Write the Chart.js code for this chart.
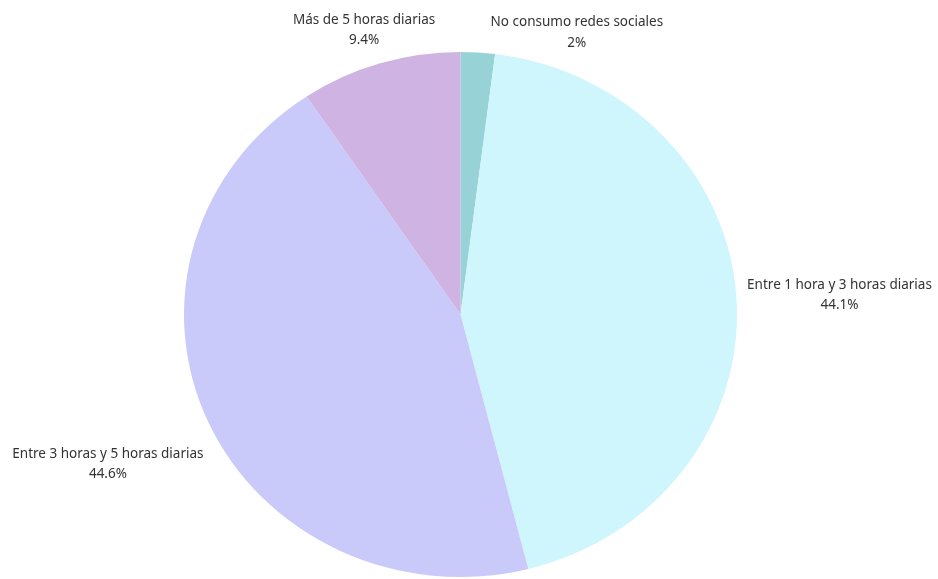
<!DOCTYPE html>
<html>
<head>
<meta charset="utf-8">
<script src="https://cdn.jsdelivr.net/npm/chart.js@4"></script>
<style>
html,body{margin:0;padding:0;background:#fff;}
#wrap{width:938px;height:579px;position:relative;}
</style>
</head>
<body>
<div id="wrap"><canvas id="c" width="938" height="579"></canvas></div>
<script>
const categories = ["No consumo redes sociales", "Entre 1 hora y 3 horas diarias", "Entre 3 horas y 5 horas diarias", "Más de 5 horas diarias"];
const values = [2, 44.1, 44.6, 9.4];
const valueLabels = ["2%", "44.1%", "44.6%", "9.4%"];
const colors = ["#97d3d6", "#cff6fc", "#cacafa", "#cfb3e2"];
// label offsets from the slice's outer mid-point (dx, dy) in px
const labelOffsets = [[99, -30], [103, -13], [-100, 33], [-16, -43]];

const X_STRETCH = 276.5 / 262.5;

const ellipsePlugin = {
  id: 'ellipse',
  beforeDatasetsDraw(chart) {
    const meta = chart.getDatasetMeta(0);
    const a = meta.data[0];
    const ctx = chart.ctx;
    ctx.save();
    ctx.translate(a.x, a.y);
    ctx.scale(X_STRETCH, 1);
    ctx.translate(-a.x, -a.y);
  },
  afterDatasetsDraw(chart) {
    chart.ctx.restore();
  }
};

const labelPlugin = {
  id: 'outLabels',
  afterDraw(chart) {
    const ctx = chart.ctx;
    const meta = chart.getDatasetMeta(0);
    ctx.save();
    ctx.font = '13.5px "Noto Sans", sans-serif';
    ctx.fillStyle = '#333333';
    ctx.textAlign = 'center';
    ctx.textBaseline = 'middle';
    meta.data.forEach((arc, i) => {
      const mid = (arc.startAngle + arc.endAngle) / 2;
      const px = arc.x + Math.cos(mid) * arc.outerRadius * X_STRETCH;
      const py = arc.y + Math.sin(mid) * arc.outerRadius;
      const x = px + labelOffsets[i][0];
      const y = py + labelOffsets[i][1];
      ctx.fillText(categories[i], x, y);
      ctx.fillText(valueLabels[i], x, y + (i === 0 ? 21 : 20));
    });
    ctx.restore();
  }
};

new Chart(document.getElementById('c'), {
  type: 'pie',
  data: {
    labels: categories,
    datasets: [{
      data: values,
      backgroundColor: colors,
      borderWidth: 0,
      hoverOffset: 0
    }]
  },
  options: {
    responsive: false,
    animation: false,
    layout: { padding: { top: 52, bottom: 2, left: 190, right: 207 } },
    plugins: { legend: { display: false }, tooltip: { enabled: false } }
  },
  plugins: [ellipsePlugin, labelPlugin]
});
</script>
</body>
</html>
